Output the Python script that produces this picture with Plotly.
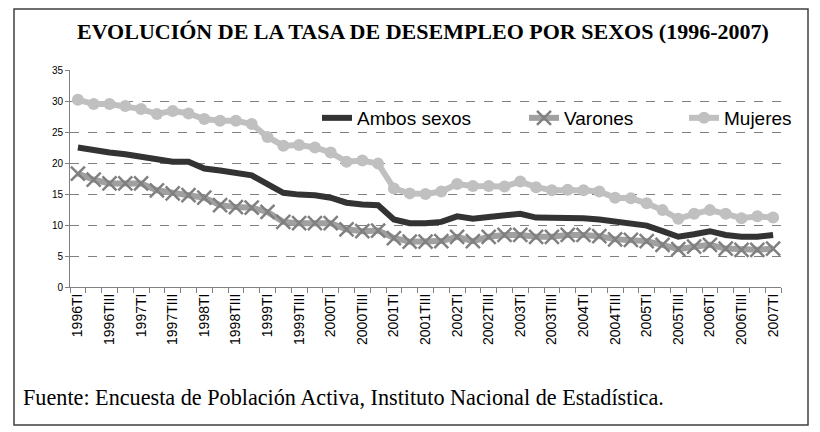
import plotly.graph_objects as go

quarters = []
for yr in range(1996, 2007):
    for q in ["TI", "TII", "TIII", "TIV"]:
        quarters.append(f"{yr}{q}")
quarters.append("2007TI")

ambos = [22.5, 22.0, 21.7, 21.4, 21.0, 20.4, 20.2, 20.2, 19.1, 18.8,
         18.4, 18.0, 16.6, 15.2, 14.9, 14.8, 14.4, 13.6, 13.3, 13.2,
         10.9, 10.3, 10.3, 10.5, 11.4, 11.0, 11.3, 11.5, 11.8, 11.2,
         11.2, 11.2, 11.1, 10.9, 10.5, 10.3, 9.9, 9.0, 8.1, 8.5,
         9.0, 8.4, 8.1, 8.1, 8.4]
varones = [18.3, 17.3, 16.7, 16.7, 16.7, 15.6, 15.1, 14.8, 14.4, 13.2,
           12.9, 12.8, 12.1, 10.5, 10.3, 10.3, 10.3, 9.3, 9.0, 9.1,
           7.9, 7.3, 7.3, 7.4, 8.1, 7.4, 8.1, 8.4, 8.4, 8.1,
           8.1, 8.4, 8.4, 8.2, 7.7, 7.6, 7.4, 6.8, 6.1, 6.5,
           6.8, 6.2, 6.0, 6.0, 6.2]
mujeres = [30.2, 29.5, 29.5, 29.2, 28.7, 27.9, 28.4, 28.0, 27.1, 26.8,
           26.8, 26.3, 24.2, 22.8, 22.9, 22.5, 21.7, 20.2, 20.4, 19.9,
           15.9, 15.1, 15.0, 15.4, 16.6, 16.3, 16.3, 16.2, 17.0, 16.1,
           15.6, 15.7, 15.6, 15.4, 14.4, 14.3, 13.5, 12.4, 11.0, 11.8,
           12.4, 11.8, 11.1, 11.4, 11.2]

y_ticks = [0, 5, 10, 15, 20, 25, 30, 35]

xi = list(range(len(quarters)))

fig = go.Figure()
fig.add_trace(go.Scatter(
    x=xi, y=ambos, name="Ambos sexos", mode="lines", legend="legend",
    line=dict(color="#333333", width=6)))
fig.add_trace(go.Scatter(
    x=xi, y=varones, name="Varones", mode="lines+markers", legend="legend2",
    line=dict(color="#a0a0a0", width=6),
    marker=dict(symbol="x-thin", size=14, color="#808080",
                line=dict(color="#808080", width=2.5))))
fig.add_trace(go.Scatter(
    x=xi, y=mujeres, name="Mujeres", mode="lines+markers", legend="legend3",
    line=dict(color="#c0c0c0", width=6),
    marker=dict(symbol="circle", size=12, color="#c0c0c0")))

# page body has an 8px margin: figure is 812x424 and positions are offset
PW, PH = 711, 217  # plot area size in px
leg_font = dict(family="Liberation Sans, Arial", size=19, color="#000000")


def leg(px):
    return dict(orientation="h", x=(px - 70) / PW, y=(287 - 118) / PH,
                xanchor="left", yanchor="middle",
                bgcolor="rgba(0,0,0,0)", font=leg_font)


fig.update_layout(
    width=812, height=424,
    margin=dict(l=62, r=39, t=62, b=145),
    paper_bgcolor="white", plot_bgcolor="white",
    showlegend=True,
    legend=leg(317), legend2=leg(524), legend3=leg(684),
    font=dict(family="Liberation Sans, Arial", color="#000000"),
)

fig.update_xaxes(
    range=[-0.5, len(quarters) - 0.5],
    tickvals=xi[::2], ticktext=quarters[::2],
    tickangle=-90, ticks="", tickfont=dict(size=14, color="#000000"),
    showgrid=False, zeroline=False,
    showline=True, linecolor="#808080", linewidth=1,
    minor=dict(tick0=-0.5, dtick=1, ticks="outside", ticklen=5,
               tickcolor="#808080", showgrid=False),
)
fig.update_yaxes(
    range=[0, 35], tickvals=y_ticks,
    ticks="outside", ticklen=4, tickcolor="#808080",
    tickfont=dict(size=10, color="#000000"),
    showgrid=True, gridcolor="#808080", griddash="dash", gridwidth=1,
    zeroline=False, showline=True, linecolor="#808080", linewidth=1,
)

# title and source
fig.add_annotation(text="<b>EVOLUCIÓN DE LA TASA DE DESEMPLEO POR SEXOS (1996-2007)</b>",
                   xref="paper", yref="paper", x=(423 - 70) / PW, y=(287 - 31) / PH,
                   xanchor="center", yanchor="middle", showarrow=False,
                   font=dict(family="Liberation Serif, Times New Roman", size=22, color="#000000"))
fig.add_annotation(text="Fuente: Encuesta de Población Activa, Instituto Nacional de Estadística.",
                   xref="paper", yref="paper", x=(21 - 70) / PW, y=(287 - 397) / PH,
                   xanchor="left", yanchor="middle", showarrow=False,
                   font=dict(family="Liberation Serif, Times New Roman", size=22.2, color="#000000"))
# outer frame
fig.add_shape(type="rect", xref="paper", yref="paper",
              x0=(14 - 70) / PW, x1=(808 - 70) / PW,
              y0=(287 - 425) / PH, y1=(287 - 9) / PH,
              line=dict(color="#404040", width=1.5), fillcolor="rgba(0,0,0,0)", layer="below")

fig.write_html("out.html")
